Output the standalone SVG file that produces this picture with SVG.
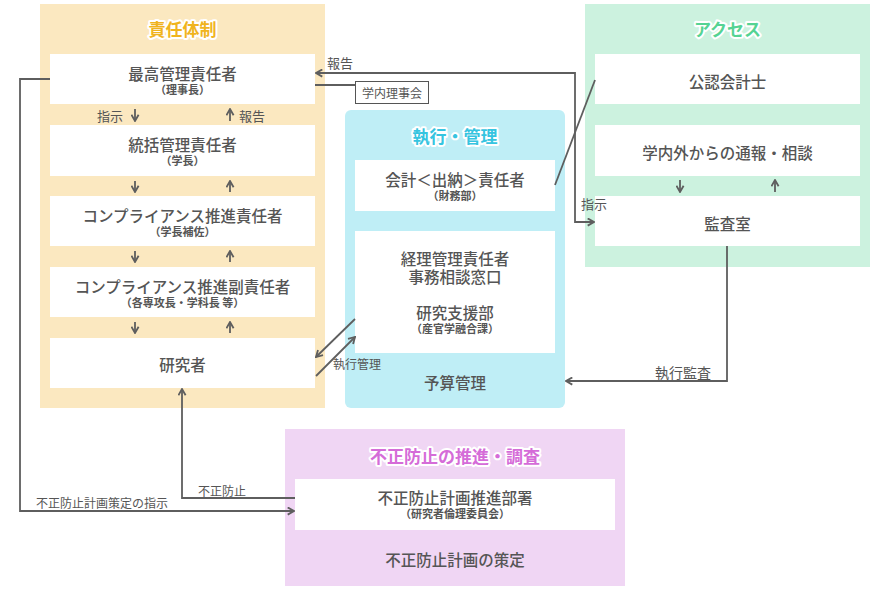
<svg xmlns="http://www.w3.org/2000/svg" width="870" height="590" viewBox="0 0 870 590">
<defs>
<style>
text{font-family:"Noto Sans CJK JP","Noto Sans",sans-serif;fill:#555;}
.m{font-size:15.5px;font-weight:500;text-anchor:middle;}
.s{font-size:11px;font-weight:700;text-anchor:middle;}
.l{font-size:13px;}
.t{font-size:17px;font-weight:700;text-anchor:middle;stroke:#fff;stroke-width:4px;paint-order:stroke;stroke-linejoin:round;}
.box{fill:#fff;}
.c{fill:none;stroke:#5e5e5e;stroke-width:1.8;}
</style>
<marker id="ah" viewBox="0 0 10 10" refX="9" refY="5" markerWidth="9" markerHeight="9" markerUnits="userSpaceOnUse" orient="auto-start-reverse">
<path d="M2,1 L9,5 L2,9" fill="none" stroke="#5e5e5e" stroke-width="2"/>
</marker>
</defs>
<rect width="870" height="590" fill="#fff"/>

<g id="panel-sekinin">
<rect x="40" y="4" width="285" height="404" fill="#fbe8c0"/>
<text class="t" x="182.5" y="36" style="fill:#f0b41e">責任体制</text>
</g>
<g id="panel-shikko">
<rect x="345" y="110" width="220" height="298" rx="6" fill="#bfeef6"/>
<text class="t" x="455" y="143" style="fill:#36c4e0">執行・管理</text>
<text class="m" x="455" y="389">予算管理</text>
</g>
<g id="panel-access">
<rect x="585" y="4" width="285" height="263" fill="#ccf2df"/>
<text class="t" x="727.5" y="36" style="fill:#55d393">アクセス</text>
</g>
<g id="panel-fusei">
<rect x="285" y="429" width="340" height="157" fill="#f0d6f4"/>
<text class="t" x="455" y="463" style="fill:#d56cd8">不正防止の推進・調査</text>
<text class="m" x="455" y="566">不正防止計画の策定</text>
</g>

<g id="n-saiko">
<rect class="box" x="50" y="54" width="265" height="50"/>
<text class="m" x="182.5" y="80">最高管理責任者</text>
<text class="s" x="182.5" y="94">（理事長）</text>
</g>
<g id="n-tokatsu">
<rect class="box" x="50" y="125" width="265" height="51"/>
<text class="m" x="182.5" y="151">統括管理責任者</text>
<text class="s" x="182.5" y="165">（学長）</text>
</g>
<g id="n-comp">
<rect class="box" x="50" y="196" width="265" height="50"/>
<text class="m" x="182.5" y="222">コンプライアンス推進責任者</text>
<text class="s" x="182.5" y="236">（学長補佐）</text>
</g>
<g id="n-compfuku">
<rect class="box" x="50" y="267" width="265" height="50"/>
<text class="m" x="182.5" y="293">コンプライアンス推進副責任者</text>
<text class="s" x="182.5" y="307">（各専攻長・学科長 等）</text>
</g>
<g id="n-kenkyusha">
<rect class="box" x="50" y="338" width="265" height="50"/>
<text class="m" x="182.5" y="371">研究者</text>
</g>

<g id="n-rijikai">
<rect x="355.5" y="81.5" width="73" height="22" fill="#fff" stroke="#555" stroke-width="1"/>
<text x="392" y="98" style="font-size:12px;text-anchor:middle">学内理事会</text>
</g>
<g id="n-kaikei">
<rect class="box" x="355" y="160" width="200" height="51"/>
<text class="m" x="455" y="186">会計＜出納＞責任者</text>
<text class="s" x="455" y="200">（財務部）</text>
</g>
<g id="n-keiri">
<rect class="box" x="355" y="231" width="200" height="122"/>
<text class="m" x="455" y="265">経理管理責任者</text>
<text class="m" x="455" y="283">事務相談窓口</text>
<text class="m" x="455" y="319">研究支援部</text>
<text class="s" x="455" y="333">（産官学融合課）</text>
</g>

<g id="n-kaikeishi">
<rect class="box" x="595" y="54" width="265" height="50"/>
<text class="m" x="727.5" y="88">公認会計士</text>
</g>
<g id="n-tsuho">
<rect class="box" x="595" y="125" width="265" height="51"/>
<text class="m" x="727.5" y="159">学内外からの通報・相談</text>
</g>
<g id="n-kansa">
<rect class="box" x="595" y="196" width="265" height="50"/>
<text class="m" x="727.5" y="230">監査室</text>
</g>

<g id="n-suishin">
<rect class="box" x="295" y="479" width="320" height="51"/>
<text class="m" x="455" y="504">不正防止計画推進部署</text>
<text class="s" x="455" y="518">（研究者倫理委員会）</text>
</g>

<g id="connectors">
<path class="c" marker-end="url(#ah)" d="M135,109 V121"/>
<path class="c" marker-end="url(#ah)" d="M230,121 V109"/>
<path class="c" marker-end="url(#ah)" d="M135,181 V192"/>
<path class="c" marker-end="url(#ah)" d="M230,192 V181"/>
<path class="c" marker-end="url(#ah)" d="M135,251 V262"/>
<path class="c" marker-end="url(#ah)" d="M230,262 V251"/>
<path class="c" marker-end="url(#ah)" d="M135,322 V333"/>
<path class="c" marker-end="url(#ah)" d="M230,333 V322"/>
<path class="c" marker-end="url(#ah)" d="M680,180 V192"/>
<path class="c" marker-end="url(#ah)" d="M775,192 V180"/>
<text class="l" x="123" y="121" text-anchor="end">指示</text>
<text class="l" x="239" y="121">報告</text>

<path class="c" d="M315,85 H355.5"/>
<path class="c" marker-start="url(#ah)" marker-end="url(#ah)" d="M316,73 H575 V222 H594"/>
<text class="l" x="327" y="68">報告</text>
<text class="l" x="581" y="209">指示</text>

<path class="c" d="M555,185 L595,80"/>

<path class="c" marker-end="url(#ah)" d="M355,319 L316,357"/>
<path class="c" marker-end="url(#ah)" d="M316,376 L355,337"/>
<text x="333" y="369" style="font-size:12px">執行管理</text>

<path class="c" marker-end="url(#ah)" d="M727,246 V381 H566"/>
<text x="655" y="378" style="font-size:14px">執行監査</text>

<path class="c" marker-end="url(#ah)" d="M50,79 H20 V511 H294"/>
<text x="36" y="508" style="font-size:12px">不正防止計画策定の指示</text>

<path class="c" marker-end="url(#ah)" d="M295,498 H182 V389"/>
<text x="198" y="496" style="font-size:12px">不正防止</text>
</g>
</svg>
